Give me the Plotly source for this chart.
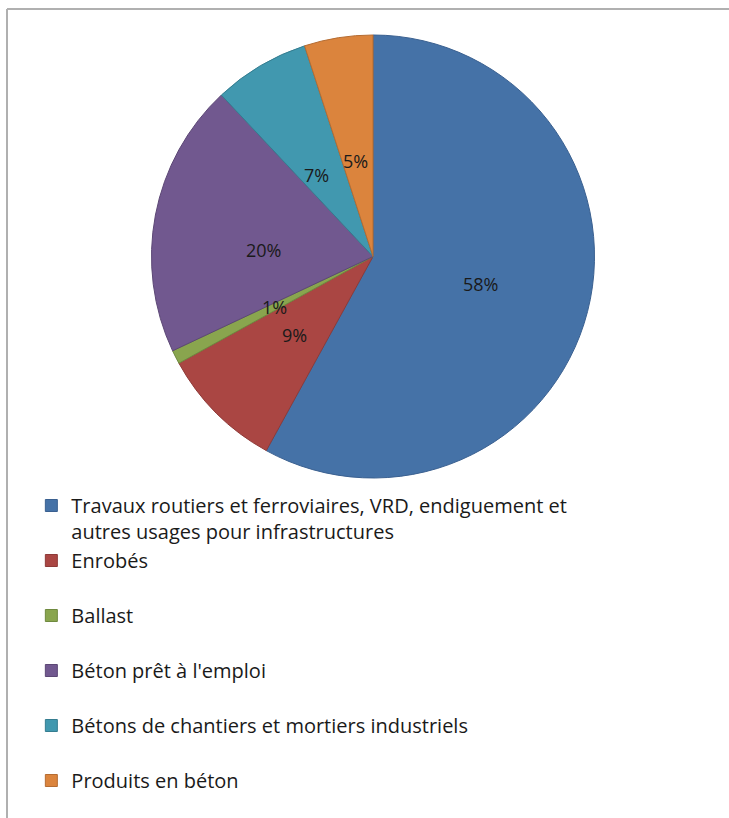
import math
import plotly.graph_objects as go

labels = [
    "Travaux routiers et ferroviaires, VRD, endiguement et<br>autres usages pour infrastructures",
    "Enrobés<br> ",
    "Ballast<br> ",
    "Béton prêt à l'emploi<br> ",
    "Bétons de chantiers et mortiers industriels<br> ",
    "Produits en béton",
]
values = [58, 9, 1, 20, 7, 5]
colors = ["#4572A7", "#AA4643", "#89A54E", "#71588F", "#4198AF", "#DB843D"]
edges = ["#3a6090", "#8e3a38", "#6f8a3f", "#5c4775", "#357d90", "#b56c32"]

W, H = 729, 818
# pie box in page pixels
left, right, top, bottom = 151, 595, 35, 478
cx, cy = (left + right) / 2, (top + bottom) / 2
r = (right - left) / 2

fig = go.Figure(go.Pie(
    labels=labels, values=values, sort=False, direction="clockwise", rotation=0,
    marker=dict(colors=colors, line=dict(color=edges, width=1)),
    textinfo="none",
    domain=dict(x=[left / W, right / W], y=[1 - bottom / H, 1 - top / H]),
    hoverinfo="label+percent",
))

# Excel-style "centre" labels: halfway along the radius at each slice's mid-angle
total = sum(values)
cum = 0
annotations = []
for v in values:
    ang = 2 * math.pi * (cum + v / 2) / total
    cum += v
    px_ = cx + 0.5 * r * math.sin(ang)
    py_ = cy - 0.5 * r * math.cos(ang)
    annotations.append(dict(
        x=px_ / W, y=1 - py_ / H, xref="paper", yref="paper", showarrow=False,
        text=f"{round(100 * v / total)}%", font=dict(size=18, color="#1a1a1a"),
    ))

fig.update_layout(
    width=W, height=H, margin=dict(l=0, r=0, t=0, b=0),
    paper_bgcolor="white", plot_bgcolor="white",
    font=dict(family="Open Sans", size=20, color="#1a1a1a"),
    annotations=annotations,
    legend=dict(x=0.043, y=1 - 486 / H, xanchor="left", yanchor="top", valign="top",
                font=dict(size=20), bgcolor="rgba(0,0,0,0)"),
    shapes=[
        dict(type="line", xref="paper", yref="paper", x0=7 / W, x1=1, y0=1 - 9 / H, y1=1 - 9 / H,
             line=dict(color="#b0b0b0", width=2)),
        dict(type="line", xref="paper", yref="paper", x0=7 / W, x1=7 / W, y0=0, y1=1 - 9 / H,
             line=dict(color="#b0b0b0", width=2)),
    ],
)

fig.write_html("out.html", config={"displayModeBar": False},
               post_script="document.body.style.margin='0';")
